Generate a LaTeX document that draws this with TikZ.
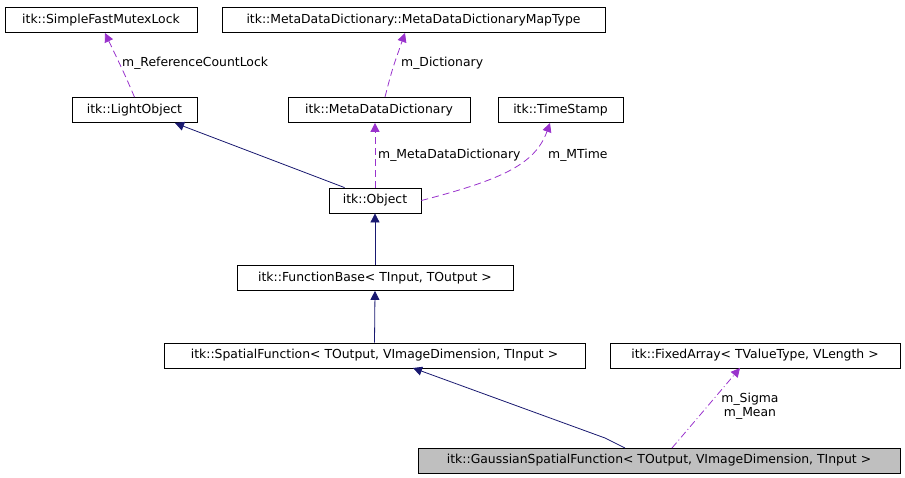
\documentclass[tikz,border=0pt]{standalone}
\usepackage{fontspec}
\setmainfont{DejaVu Sans}
\usetikzlibrary{arrows.meta}
\definecolor{inhc}{RGB}{25,25,112}
\definecolor{usec}{RGB}{153,50,204}
\begin{document}
\begin{tikzpicture}[x=1pt,y=-1pt,
 box/.style={draw=black,fill=white,line width=0.8pt,inner sep=0pt,font=\fontsize{12.4}{14}\selectfont,minimum height=25pt},
 inh/.style={color=inhc,line width=0.8pt,-{Triangle[length=9pt,width=9pt]}},
 use/.style={color=usec,line width=0.8pt,dash pattern=on 7pt off 4pt,-{Triangle[length=9pt,width=9pt]}},
 lab/.style={font=\fontsize{12.4}{14}\selectfont,inner sep=0pt,align=center}]
\useasboundingbox (0,0) rectangle (905,477);
\node[box,minimum width=192pt] (mutex) at (101,20) {itk::SimpleFastMutexLock};
\node[box,minimum width=383pt] (map) at (413.5,20) {itk::MetaDataDictionary::MetaDataDictionaryMapType};
\node[box,minimum width=125pt] (light) at (134.5,110) {itk::LightObject};
\node[box,minimum width=182pt] (mdd) at (379,110) {itk::MetaDataDictionary};
\node[box,minimum width=125pt] (ts) at (560.5,110) {itk::TimeStamp};
\node[box,minimum width=92pt] (obj) at (375,200.5) {itk::Object};
\node[box,minimum width=276pt] (fb) at (375,278) {itk::FunctionBase< TInput, TOutput >};
\node[box,minimum width=421pt] (sf) at (374.5,355.5) {itk::SpatialFunction< TOutput, VImageDimension, TInput >};
\node[box,minimum width=290pt] (fa) at (755,355.5) {itk::FixedArray< TValueType, VLength >};
\node[box,minimum width=482pt,fill={rgb,255:red,191;green,191;blue,191}] (g) at (659,460.5) {itk::GaussianSpatialFunction< TOutput, VImageDimension, TInput >};
\draw[use] (light.north) .. controls (125,75) .. (105,33);
\node[lab,anchor=west] (l1) at (122,63) {m\_ReferenceCountLock};
\draw[use] (385,97) .. controls (392,70) .. (405,33);
\node[lab,anchor=west] (l2) at (401,63) {m\_Dictionary};
\draw[inh] (obj.north west) ++(16,0) -- (175,123);
\draw[use] (obj.north) -- (mdd.south -| obj.north);
\node[lab,anchor=west] (l3) at (378,155) {m\_MetaDataDictionary};
\draw[use] (obj.east) .. controls (500,180) and (535,165) .. (550,123);
\node[lab,anchor=west] (l4) at (548,155) {m\_MTime};
\draw[inh] (fb.north) -- (obj.south);
\draw[inh] (sf.north) -- (fb.south);
\draw[inh] (625,448) -- (605,438) -- (413,368);
\draw[use,dash pattern=on 7pt off 3pt on 1pt off 3pt] (672,448) -- (740,368);
\node[lab] (l5) at (750,406) {m\_Sigma\\m\_Mean};
\end{tikzpicture}
\end{document}
